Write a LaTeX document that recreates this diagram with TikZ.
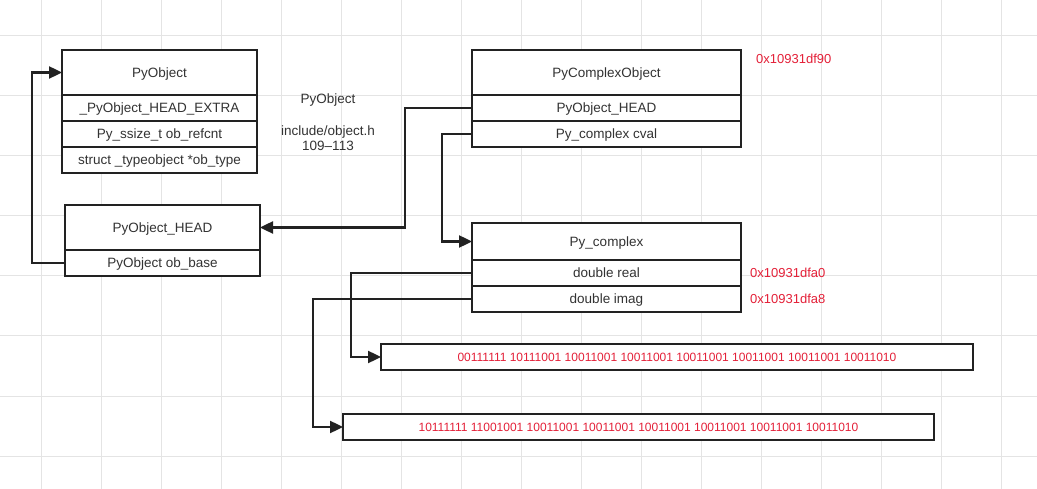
\documentclass[tikz,border=0pt]{standalone}
\usepackage{fontspec}
\setmainfont{Liberation Sans}
\usetikzlibrary{arrows.meta}
\definecolor{ink}{HTML}{222222}
\definecolor{txt}{HTML}{333333}
\definecolor{addr}{RGB}{228,32,56}
\definecolor{gridc}{HTML}{E4E4E4}
\tikzset{
  cell/.style={draw=ink, line width=2.4pt, fill=white, inner sep=0pt, outer sep=0pt,
    anchor=north west, text=txt, font=\fontsize{13.5}{15}\selectfont,
    text height=9.7pt, text depth=0pt},
  bits/.style={cell, text=addr, font=\fontsize{12}{14}\selectfont, minimum height=26pt,
    text height=8.6pt, text depth=0pt},
  addrlabel/.style={anchor=west, text=addr, inner sep=0pt, font=\fontsize{13}{15}\selectfont},
  conn/.style={draw=ink, line width=2.4pt, -{Triangle[length=13pt,width=12pt]}}
}
\begin{document}
\begin{tikzpicture}[x=1pt,y=-1pt]
\useasboundingbox (0,0) rectangle (1037,489);
\fill[white] (0,0) rectangle (1037,489);
% grid
\foreach \yy in {36,96,...,456} \draw[gridc, line width=1pt] (0,\yy) -- (1037,\yy);
\foreach \k in {0,...,16} \draw[gridc, line width=1pt] ({41.7+60*\k},0) -- ({41.7+60*\k},489);

% PyObject
\node[cell, minimum width=195pt, minimum height=45pt] (po) at (62,50) {PyObject};
\node[cell, minimum width=195pt, minimum height=26pt] (poextra) at (po.south west) {\_PyObject\_HEAD\_EXTRA};
\node[cell, minimum width=195pt, minimum height=26pt] (porefc) at (poextra.south west) {Py\_ssize\_t ob\_refcnt};
\node[cell, minimum width=195pt, minimum height=26pt] (potype) at (porefc.south west) {struct \_typeobject *ob\_type};

% PyObject_HEAD
\node[cell, minimum width=195pt, minimum height=45pt] (ph) at (65,205) {PyObject\_HEAD};
\node[cell, minimum width=195pt, minimum height=26pt] (pbase) at (ph.south west) {PyObject ob\_base};

% note
\node[text=txt, align=center, font=\fontsize{13.5}{15}\selectfont, inner sep=0pt] (note) at (328,122)
  {PyObject\\[17pt]include/object.h\\109–113};

% PyComplexObject
\node[cell, minimum width=269pt, minimum height=45pt] (pco) at (472,50) {PyComplexObject};
\node[cell, minimum width=269pt, minimum height=26pt] (chead) at (pco.south west) {PyObject\_HEAD};
\node[cell, minimum width=269pt, minimum height=26pt] (cval) at (chead.south west) {Py\_complex cval};
\node[addrlabel] (a0) at (756,59) {0x10931df90};

% Py_complex
\node[cell, minimum width=269pt, minimum height=37pt] (pc) at (472,223) {Py\_complex};
\node[cell, minimum width=269pt, minimum height=26pt] (real) at (pc.south west) {double real};
\node[cell, minimum width=269pt, minimum height=26pt] (imag) at (real.south west) {double imag};
\node[addrlabel] (a1) at (750,273) {0x10931dfa0};
\node[addrlabel] (a2) at (750,299) {0x10931dfa8};

% bit boxes
\node[bits, minimum width=592pt] (b1) at (381,344) {00111111 10111001 10011001 10011001 10011001 10011001 10011001 10011010};
\node[bits, minimum width=591pt] (b2) at (343,414) {10111111 11001001 10011001 10011001 10011001 10011001 10011001 10011010};

% connectors
\draw[conn] (pbase.west) -- ++(-33,0) |- (po.west);
\draw[conn] (chead.west) -- ++(-67,0) |- (ph.east);
\draw[conn] (cval.west) -- ++(-30,0) |- (pc.west);
\draw[conn] (real.west) -- ++(-121,0) |- (b1.west);
\draw[conn] (imag.west) -- ++(-159,0) |- (b2.west);
\end{tikzpicture}
\end{document}
